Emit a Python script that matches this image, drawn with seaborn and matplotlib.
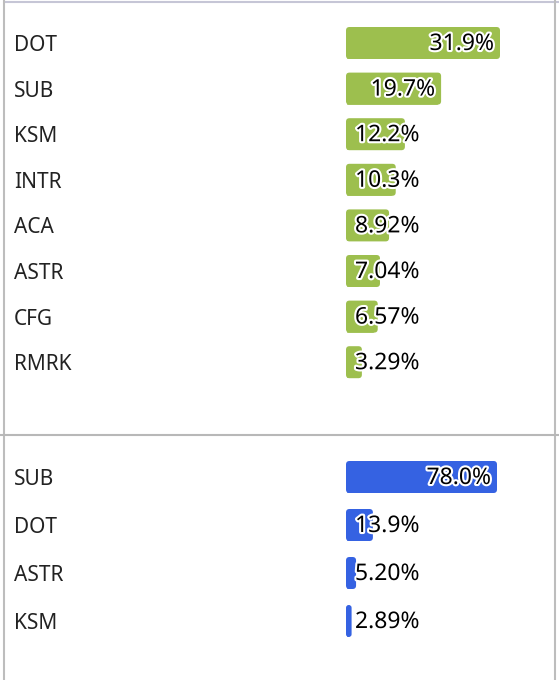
import matplotlib
matplotlib.use("Agg")
import matplotlib.pyplot as plt
import matplotlib.patheffects as pe
from matplotlib.lines import Line2D
from matplotlib.patches import FancyBboxPatch
import seaborn as sns
import pandas as pd

# ---- data ----
top_categories = ["DOT", "SUB", "KSM", "INTR", "ACA", "ASTR", "CFG", "RMRK"]
top_values = [31.9, 19.7, 12.2, 10.3, 8.92, 7.04, 6.57, 3.29]
top_labels = ["31.9%", "19.7%", "12.2%", "10.3%", "8.92%", "7.04%", "6.57%", "3.29%"]

bottom_categories = ["SUB", "DOT", "ASTR", "KSM"]
bottom_values = [78.0, 13.9, 5.20, 2.89]
bottom_labels = ["78.0%", "13.9%", "5.20%", "2.89%"]

GREEN = "#9dbf4e"
BLUE = "#3562e2"

sns.set_theme(style="white")
plt.rcParams["font.family"] = ["Noto Sans", "DejaVu Sans"]

W, H, DPI = 559, 680, 100
fig = plt.figure(figsize=(W / DPI, H / DPI), dpi=DPI)
fig.patch.set_facecolor("white")


def px_axes(x0, y0, x1, y1):
    # pixel box (top-left origin) -> figure axes
    return fig.add_axes([x0 / W, 1 - y1 / H, (x1 - x0) / W, (y1 - y0) / H])


def panel(ax, cats, vals, labels, color, first_px, step_px, top_px, bot_px,
          bar_px=32, full_px=152):
    df = pd.DataFrame({"cat": cats, "val": vals})
    sns.barplot(data=df, x="val", y="cat", orient="h", color=color,
                width=bar_px / step_px, ax=ax, saturation=1)
    n = len(cats)
    ax.set_ylim((n - 1) + (bot_px - (first_px + step_px * (n - 1))) / step_px,
                -(first_px - top_px) / step_px)
    axw_px = 555 - 346
    unit = full_px / max(vals)
    ax.set_xlim(0, axw_px / unit)

    # rounded right corners: add a rounded patch over each bar
    r_px = 3.5
    r_x = r_px / unit                 # data-x per radius
    aspect = (1 / step_px) / (1 / unit)  # data-y per px / data-x per px
    for p in list(ax.patches):
        x, y, w, h = p.get_x(), p.get_y(), p.get_width(), p.get_height()
        rr = min(r_x, w / 2)
        p.set_width(max(w - rr, 0))
        rp = FancyBboxPatch((x, y), w, h,
                            boxstyle=f"round,pad=0,rounding_size={rr}",
                            mutation_aspect=aspect, facecolor=color,
                            edgecolor="none", zorder=p.get_zorder())
        ax.add_patch(rp)

    for s in ax.spines.values():
        s.set_visible(False)
    ax.set_xticks([])
    ax.set_xlabel("")
    ax.set_ylabel("")
    ax.tick_params(axis="y", length=0, pad=(346 - 14) * 72 / DPI)
    for t in ax.get_yticklabels():
        t.set_horizontalalignment("left")
        t.set_fontsize(15)
        t.set_color("#222222")
    stroke = [pe.withStroke(linewidth=3, foreground="white")]
    for i, (v, lab) in enumerate(zip(vals, labels)):
        if v * unit > 85:
            ax.annotate(lab, xy=(v, i), xytext=(-6 * 72 / DPI, -1 * 72 / DPI),
                        textcoords="offset points", ha="right", va="center",
                        fontsize=16.5, color="black", path_effects=stroke,
                        zorder=5)
        else:
            ax.annotate(lab, xy=(0, i), xytext=(9 * 72 / DPI, -1 * 72 / DPI),
                        textcoords="offset points", ha="left", va="center",
                        fontsize=16.5, color="black", path_effects=stroke,
                        zorder=5)
    ax.set_facecolor("none")


ax1 = px_axes(346, 3, 555, 435)
panel(ax1, top_categories, top_values, top_labels, GREEN,
      first_px=43, step_px=45.6, top_px=3, bot_px=435, full_px=154)

ax2 = px_axes(346, 435, 555, 680)
panel(ax2, bottom_categories, bottom_values, bottom_labels, BLUE,
      first_px=477, step_px=48, top_px=435, bot_px=680, full_px=151)

# ---- frame lines ----
def fline(x0, y0, x1, y1, color, lw=1.5):
    fig.add_artist(Line2D([x0 / W, x1 / W], [1 - y0 / H, 1 - y1 / H],
                          color=color, lw=lw, transform=fig.transFigure))

fline(4, 2, 559, 2, "#c6c6d6")
fline(4, 0, 4, 680, "#bdbdbd")
fline(555, 0, 555, 680, "#bdbdbd")
fline(0, 435, 559, 435, "#b8b8b8")

fig.savefig("out.png", dpi=DPI, facecolor="white")
